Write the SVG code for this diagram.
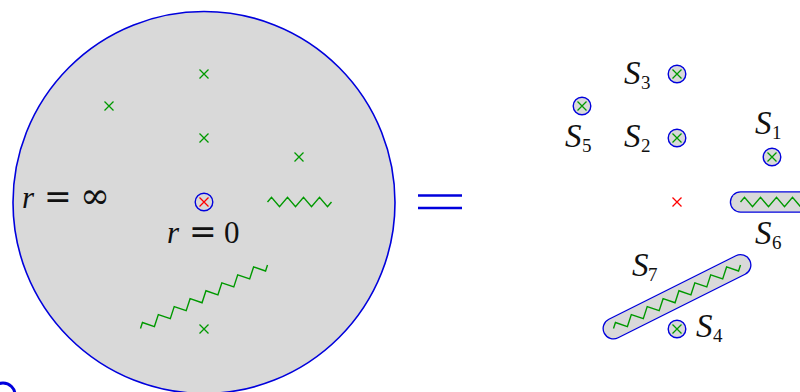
<svg xmlns="http://www.w3.org/2000/svg" xmlns:xlink="http://www.w3.org/1999/xlink" width="800" height="392" viewBox="0 0 800 392">
<style>
.gx{stroke:#009900;stroke-width:1.3;fill:none}
.rx{stroke:#ff0000;stroke-width:1.3;fill:none}
.zz{stroke:#009900;stroke-width:1.4;fill:none;stroke-linejoin:miter}
.ring{stroke:#0000dd;stroke-width:1.4;fill:#d9d9d9}
.t{font-family:"Liberation Serif","DejaVu Serif",serif;fill:#111}
.it{font-style:italic}
.m{font-size:31px}
.sm{font-size:33px}
.s{font-size:19px}
</style>
<defs>
<path id="gcross" class="gx" d="M-4.5,-4.5L4.5,4.5M-4.5,4.5L4.5,-4.5"/>
<g id="ringcross"><circle r="8.8" class="ring"/><use xlink:href="#gcross"/></g>
<path id="zzh" class="zz" d="M267.5,202 L271.5,197.3 L279.5,206.7 L287.5,197.3 L295.5,206.7 L303.5,197.3 L311.5,206.7 L319.5,197.3 L327.5,206.7 L331.5,202"/>
<path id="zzd" class="zz" d="M140.5,328.5 L142.46,322.49 L154.42,326.57 L158.33,314.55 L170.30,318.64 L174.21,306.62 L186.17,310.70 L190.09,298.68 L202.05,302.77 L205.96,290.75 L217.92,294.83 L221.84,282.81 L233.80,286.89 L237.71,274.88 L249.68,278.96 L253.59,266.94 L265.55,271.02 L267.5,265"/>
</defs>

<g id="disk">
<circle cx="204" cy="202.5" r="191" fill="#d9d9d9" stroke="#0000dd" stroke-width="1.6"/>
<use xlink:href="#gcross" x="204" y="74"/>
<use xlink:href="#gcross" x="109" y="106"/>
<use xlink:href="#gcross" x="204" y="138"/>
<use xlink:href="#gcross" x="299" y="157"/>
<use xlink:href="#gcross" x="204" y="329"/>
<g id="origin"><circle cx="204" cy="202" r="8.8" fill="#d9d9d9" stroke="#0000dd" stroke-width="1.4"/><path class="rx" d="M199.5,197.5L208.5,206.5M199.5,206.5L208.5,197.5"/></g>
<use xlink:href="#zzh"/>
<use xlink:href="#zzd"/>
<text class="t m" y="208"><tspan class="it" x="22">r</tspan><tspan x="44" font-family="DejaVu Serif" font-size="33">=</tspan><tspan x="80" font-family="DejaVu Serif" font-size="36">∞</tspan></text>
<text class="t m" y="243"><tspan class="it" x="167">r</tspan><tspan x="189" font-family="DejaVu Serif" font-size="33">=</tspan><tspan x="224">0</tspan></text>
</g>

<g id="equals">
<line x1="418" y1="195.5" x2="462" y2="195.5" stroke="#0000dd" stroke-width="2.6"/>
<line x1="418" y1="208" x2="462" y2="208" stroke="#0000dd" stroke-width="2.6"/>
</g>

<g id="S7">
<line x1="613.5" y1="328.5" x2="740.5" y2="265" stroke="#0000dd" stroke-width="22" stroke-linecap="round"/>
<line x1="613.5" y1="328.5" x2="740.5" y2="265" stroke="#d9d9d9" stroke-width="19.4" stroke-linecap="round"/>
<use xlink:href="#zzd" transform="translate(473,0)"/>
<text class="t" y="276"><tspan class="it sm" x="632">S</tspan><tspan class="s" x="648" y="281">7</tspan></text>
</g>
<g id="S6">
<line x1="740.5" y1="202" x2="806" y2="202" stroke="#0000dd" stroke-width="21.5" stroke-linecap="round"/>
<line x1="740.5" y1="202" x2="806" y2="202" stroke="#d9d9d9" stroke-width="18.9" stroke-linecap="round"/>
<use xlink:href="#zzh" transform="translate(473,0)"/>
<text class="t" y="244"><tspan class="it sm" x="755">S</tspan><tspan class="s" x="772" y="249">6</tspan></text>
</g>
<g id="S3">
<use xlink:href="#ringcross" x="677" y="74"/>
<text class="t" y="84"><tspan class="it sm" x="624">S</tspan><tspan class="s" x="641" y="89">3</tspan></text>
</g>
<g id="S5">
<use xlink:href="#ringcross" x="582" y="106"/>
<text class="t" y="147"><tspan class="it sm" x="565">S</tspan><tspan class="s" x="582" y="152">5</tspan></text>
</g>
<g id="S2">
<use xlink:href="#ringcross" x="677" y="138"/>
<text class="t" y="147"><tspan class="it sm" x="624">S</tspan><tspan class="s" x="641" y="152">2</tspan></text>
</g>
<g id="S1">
<use xlink:href="#ringcross" x="772" y="157"/>
<text class="t" y="134"><tspan class="it sm" x="755">S</tspan><tspan class="s" x="772" y="139">1</tspan></text>
</g>
<g id="S4">
<use xlink:href="#ringcross" x="677" y="329"/>
<text class="t" y="337"><tspan class="it sm" x="696">S</tspan><tspan class="s" x="713" y="342">4</tspan></text>
</g>
<g id="redpoint">
<path class="rx" d="M672.5,197.5L681.5,206.5M672.5,206.5L681.5,197.5"/>
</g>
<g id="corner">
<circle cx="3" cy="395" r="12" fill="none" stroke="#0000dd" stroke-width="3"/>
</g>
</svg>
